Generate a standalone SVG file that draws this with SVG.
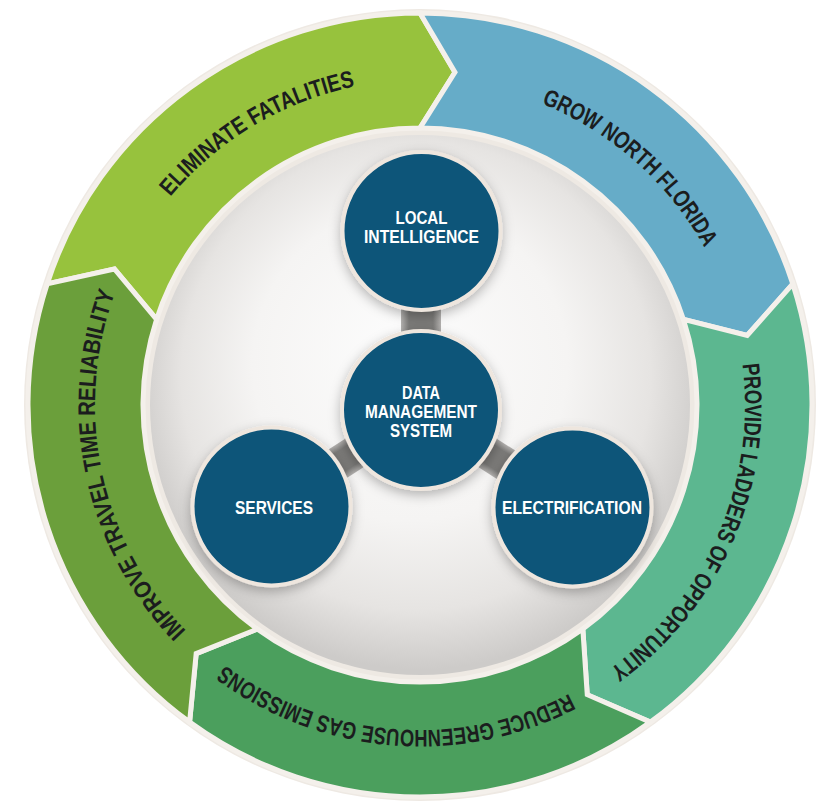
<svg xmlns="http://www.w3.org/2000/svg" width="832" height="806" viewBox="0 0 832 806">
<defs>
<style>
.seg{stroke:#f4f0eb;stroke-width:5;stroke-linejoin:miter}
.ring{font-family:"Liberation Sans",Arial,sans-serif;font-weight:bold;font-size:24px;fill:#1b1d1e}
.node circle{fill:#0c5479;stroke:#eee6de;stroke-width:4}
.lbl{font-family:"Liberation Sans",Arial,sans-serif;font-weight:bold;font-size:19px;fill:#ffffff;text-anchor:middle}
.bar{fill:url(#barGrad)}
</style>
<path id="ringPath" d="M420,80 A325,325 0 1,1 420,730 A325,325 0 1,1 420,80"/>
<radialGradient id="discGrad" cx="50%" cy="46%" r="53%" fx="46%" fy="38%">
<stop offset="0" stop-color="#fcfcfc"/>
<stop offset="0.55" stop-color="#f5f4f3"/>
<stop offset="0.82" stop-color="#e6e4e2"/>
<stop offset="1" stop-color="#cdcbc9"/>
</radialGradient>
<linearGradient id="barGrad" x1="0" y1="0" x2="1" y2="0">
<stop offset="0" stop-color="#b3b1af"/>
<stop offset="0.2" stop-color="#7b7a78"/>
<stop offset="0.8" stop-color="#7b7a78"/>
<stop offset="1" stop-color="#b3b1af"/>
</linearGradient>
<filter id="sh" x="-30%" y="-30%" width="160%" height="160%">
<feDropShadow dx="0" dy="4" stdDeviation="6" flood-color="#000000" flood-opacity="0.28"/>
</filter>
</defs>
<rect width="832" height="806" fill="#ffffff"/>
<circle cx="420" cy="405" r="396" fill="#eee9e3"/>

<g id="eliminate-fatalities">
<path class="seg" fill="#97c23d" d="M47.18,283.87 A392,392 0 0,1 420,13 L454.96,72.33 L420,128 A277,277 0 0,0 156.56,319.4 L114.42,268.95 Z"/>
<text class="ring"><textPath href="#ringPath" startOffset="1866.2" text-anchor="middle" textLength="219" lengthAdjust="spacingAndGlyphs">ELIMINATE FATALITIES</textPath></text>
</g>
<g id="grow-north-florida">
<path class="seg" fill="#66acc8" d="M420,13 A392,392 0 0,1 792.82,283.87 L747.19,335.45 L683.44,319.4 A277,277 0 0,0 420,128 L454.96,72.33 Z"/>
<text class="ring"><textPath href="#ringPath" startOffset="235.4" text-anchor="middle" textLength="222" lengthAdjust="spacingAndGlyphs">GROW NORTH FLORIDA</textPath></text>
</g>
<g id="provide-ladders">
<path class="seg" fill="#5cb790" d="M792.82,283.87 A392,392 0 0,1 650.41,722.13 L587.25,694.68 L582.82,629.1 A277,277 0 0,0 683.44,319.4 L747.19,335.45 Z"/>
<text class="ring"><textPath href="#ringPath" startOffset="643.8" text-anchor="middle" textLength="349" lengthAdjust="spacingAndGlyphs">PROVIDE LADDERS OF OPPORTUNITY</textPath></text>
</g>
<g id="reduce-emissions">
<path class="seg" fill="#4b9f5d" d="M650.41,722.13 A392,392 0 0,1 189.59,722.13 L196.18,653.58 L257.18,629.1 A277,277 0 0,0 582.82,629.1 L587.25,694.68 Z"/>
<text class="ring"><textPath href="#ringPath" startOffset="1047.7" text-anchor="middle" textLength="364" lengthAdjust="spacingAndGlyphs">REDUCE GREENHOUSE GAS EMISSIONS</textPath></text>
</g>
<g id="improve-reliability">
<path class="seg" fill="#6b9f3b" d="M189.59,722.13 A392,392 0 0,1 47.18,283.87 L114.42,268.95 L156.56,319.4 A277,277 0 0,0 257.18,629.1 L196.18,653.58 Z"/>
<text class="ring"><textPath href="#ringPath" startOffset="1463.5" text-anchor="middle" textLength="364" lengthAdjust="spacingAndGlyphs">IMPROVE TRAVEL TIME RELIABILITY</textPath></text>
</g>

<circle id="inner-disc" cx="420" cy="405" r="270" fill="url(#discGrad)"/>

<g id="connectors">
<rect class="bar" x="-20" y="-179" width="40" height="179" transform="translate(421,410)"/>
<rect class="bar" x="-17" y="-178" width="34" height="178" transform="translate(421,410) rotate(237.2)"/>
<rect class="bar" x="-17" y="-180" width="34" height="180" transform="translate(421,410) rotate(122.8)"/>
</g>

<g id="local-intelligence" class="node">
<circle cx="421.5" cy="231" r="79" filter="url(#sh)"/>
<text class="lbl"><tspan x="421.5" y="224" textLength="52" lengthAdjust="spacingAndGlyphs">LOCAL</tspan><tspan x="421.5" y="243" textLength="115" lengthAdjust="spacingAndGlyphs">INTELLIGENCE</tspan></text>
</g>
<g id="data-management-system" class="node">
<circle cx="421" cy="410" r="79" filter="url(#sh)"/>
<text class="lbl"><tspan x="421" y="399" textLength="38" lengthAdjust="spacingAndGlyphs">DATA</tspan><tspan x="421" y="418" textLength="112" lengthAdjust="spacingAndGlyphs">MANAGEMENT</tspan><tspan x="421" y="437" textLength="62" lengthAdjust="spacingAndGlyphs">SYSTEM</tspan></text>
</g>
<g id="services" class="node">
<circle cx="271.5" cy="506.5" r="79" filter="url(#sh)"/>
<text class="lbl" x="274" y="514" textLength="78" lengthAdjust="spacingAndGlyphs">SERVICES</text>
</g>
<g id="electrification" class="node">
<circle cx="572.5" cy="507.5" r="79" filter="url(#sh)"/>
<text class="lbl" x="572" y="514" textLength="140" lengthAdjust="spacingAndGlyphs">ELECTRIFICATION</text>
</g>
</svg>
